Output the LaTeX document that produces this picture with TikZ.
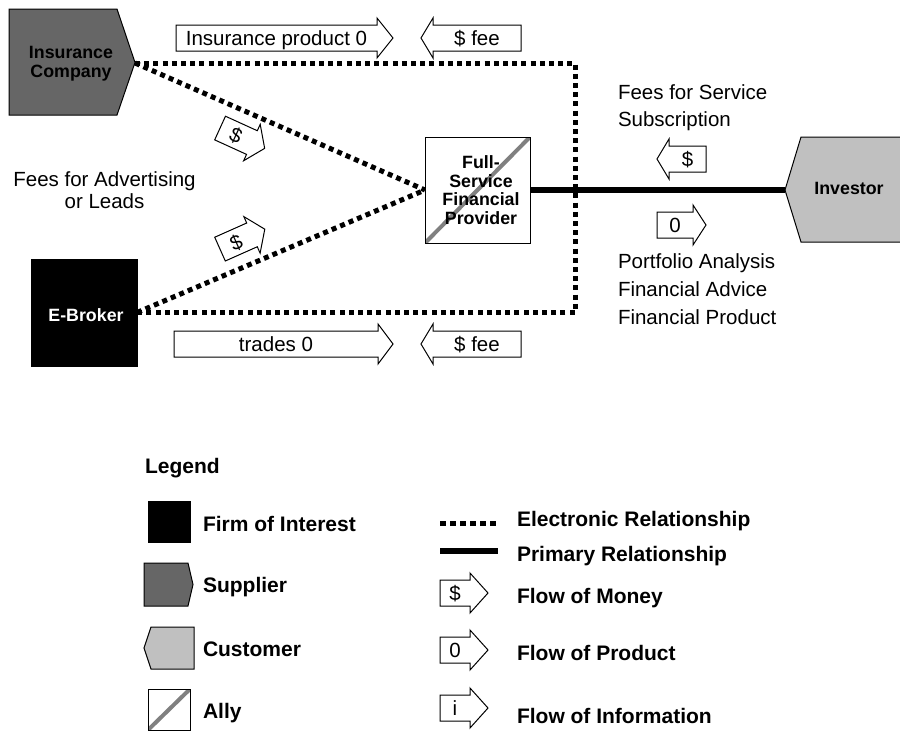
\documentclass[tikz,border=0pt]{standalone}
\usepackage{fontspec}
\setmainfont{Liberation Sans}
\definecolor{supgray}{HTML}{666666}
\definecolor{cusgray}{HTML}{C0C0C0}
\definecolor{allygray}{HTML}{808080}
\tikzset{
  every node/.style={inner sep=0pt, outer sep=0pt},
  txt/.style={font=\fontsize{20.5}{24}\selectfont},
  flowtxt/.style={font=\fontsize{20.5}{24}\selectfont, text height=14.7pt, text depth=0pt},
  btxt/.style={font=\bfseries\fontsize{17.8}{20}\selectfont, anchor=base},
  lgd/.style={font=\bfseries\fontsize{21}{24}\selectfont, anchor=base west},
  elec/.style={line width=5pt, dash pattern=on 5pt off 4.2pt},
  prim/.style={line width=6pt},
  firm/.style={draw=black, fill=black, line width=1pt},
  supfill/.style={draw=black, fill=supgray, line width=1pt, line join=miter},
  cusfill/.style={draw=black, fill=cusgray, line width=1pt, line join=miter},
  ally/.style={draw=black, fill=white, line width=1pt,
    path picture={\draw[allygray, line width=4pt] (path picture bounding box.south west) -- (path picture bounding box.north east);}},
  flowline/.style={draw=black, fill=white, line width=1pt, line join=miter},
}
% name, x, y, angle, dir(1/-1), rect length, head length, text
\newcommand\flowarrow[8]{%
  \begin{scope}[shift={(#2,#3)}, rotate=#4]
    \draw[flowline] ({-1*(#5)*(#6)/2},-13) -- ({(#5)*(#6)/2},-13) -- ({(#5)*(#6)/2},-20)
      -- ({(#5)*((#6)/2+(#7))},0) -- ({(#5)*(#6)/2},20) -- ({(#5)*(#6)/2},13)
      -- ({-1*(#5)*(#6)/2},13) -- cycle;
    \node[flowtxt, transform shape] (#1) at (0,0) {#8};
  \end{scope}}
\begin{document}
\begin{tikzpicture}[x=1pt, y=-1pt]
\useasboundingbox (0,0) rectangle (900,731);

% ---- shapes ----
\draw[supfill] (9,9) -- (117,9) -- (135,62.5) -- (117,115) -- (9,115) -- cycle;
\coordinate (insTip) at (135,63);
\node[firm, minimum width=106, minimum height=107] (eb) at (84,312.5) {};
\node[ally, minimum width=105, minimum height=106] (fsfp) at (477.5,190) {};
\draw[cusfill] (785,190) -- (801,137) -- (901,137) -- (901,242) -- (801,242) -- cycle;
\coordinate (invTip) at (785,190);
\coordinate (elecTR) at (575,63);

% ---- connectors ----
\draw[elec] (insTip) -- (elecTR) -- (elecTR |- eb.east) -- (eb.east);
\draw[elec] (insTip) -- (fsfp.west);
\draw[elec] (eb.east) -- (fsfp.west);
\draw[prim] (fsfp.east) -- (invTip);

% ---- shape labels ----
\node[font=\bfseries\fontsize{17.8}{18.6}\selectfont, align=center] (insT) at (71,64) {Insurance\\Company};
\node[btxt, text=white] (ebT) at (86,321.7) {E-Broker};
\node[font=\bfseries\fontsize{17.8}{18.67}\selectfont, align=center] (fsT) at (481,190) {Full-\\Service\\Financial\\Provider};
\node[btxt] (invT) at (849,194) {Investor};

% ---- flows ----
\flowarrow{insProd}{276.5}{38}{0}{1}{201}{16}{Insurance product 0}
\flowarrow{feeTop}{477}{38}{0}{-1}{88}{12}{\$ fee}
\flowarrow{trades}{276}{344}{0}{1}{204}{15}{trades 0}
\flowarrow{feeBot}{477}{344}{0}{-1}{88}{12}{\$ fee}
\flowarrow{subFee}{687.5}{159}{0}{-1}{37}{12}{\$}
\flowarrow{prodFlow}{675}{225}{0}{1}{36}{13}{0}
\flowarrow{advTop}{236}{135.3}{-24.5}{1}{35}{14}{\$}
\flowarrow{advBot}{236}{242}{24}{1}{35}{14}{\$}

% ---- free texts ----
\node[txt, anchor=base] (adv1) at (104.5,186) {Fees for Advertising};
\node[txt, anchor=base] (adv2) at (104.5,208) {or Leads};
\node[txt, anchor=base west] (sub1) at (618,99.3) {Fees for Service};
\node[txt, anchor=base west] (sub2) at (618,126.7) {Subscription};
\node[txt, anchor=base west] (pa1) at (618,268) {Portfolio Analysis};
\node[txt, anchor=base west] (pa2) at (618,296) {Financial Advice};
\node[txt, anchor=base west] (pa3) at (618,324) {Financial Product};

% ---- legend ----
\node[lgd] (lgTitle) at (145,473.3) {Legend};
\node[firm, minimum width=42, minimum height=41] (lgFirm) at (169,521.5) {};
\node[lgd] (lgFirmT) at (203,531.7) {Firm of Interest};
\draw[supfill] (144,563) -- (188,563) -- (193,584.5) -- (188,606) -- (144,606) -- cycle;
\node[lgd] (lgSupT) at (203,592.7) {Supplier};
\draw[cusfill] (144,648) -- (151,627) -- (194,627) -- (194,669) -- (151,669) -- cycle;
\node[lgd] (lgCusT) at (203,656.7) {Customer};
\node[ally, minimum width=42, minimum height=41] (lgAlly) at (169,709.5) {};
\node[lgd] (lgAllyT) at (203,718.3) {Ally};

\coordinate (le1) at (440,523);
\coordinate (le2) at (498,523);
\draw[elec, dash pattern=on 5.5pt off 4.5pt] (le1) -- (le2);
\node[lgd] (lgElecT) at (517,526) {Electronic Relationship};
\coordinate (lp1) at (440,551);
\coordinate (lp2) at (498,551);
\draw[prim] (lp1) -- (lp2);
\node[lgd] (lgPrimT) at (517,561.7) {Primary Relationship};
\flowarrow{lgMoney}{455}{593}{0}{1}{30}{18}{\$}
\node[lgd] (lgMoneyT) at (517,603.3) {Flow of Money};
\flowarrow{lgProd}{455}{650}{0}{1}{30}{18}{0}
\node[lgd] (lgProdT) at (517,660) {Flow of Product};
\flowarrow{lgInfo}{455}{708}{0}{1}{30}{18}{i}
\node[lgd] (lgInfoT) at (517,723.3) {Flow of Information};
\end{tikzpicture}
\end{document}
